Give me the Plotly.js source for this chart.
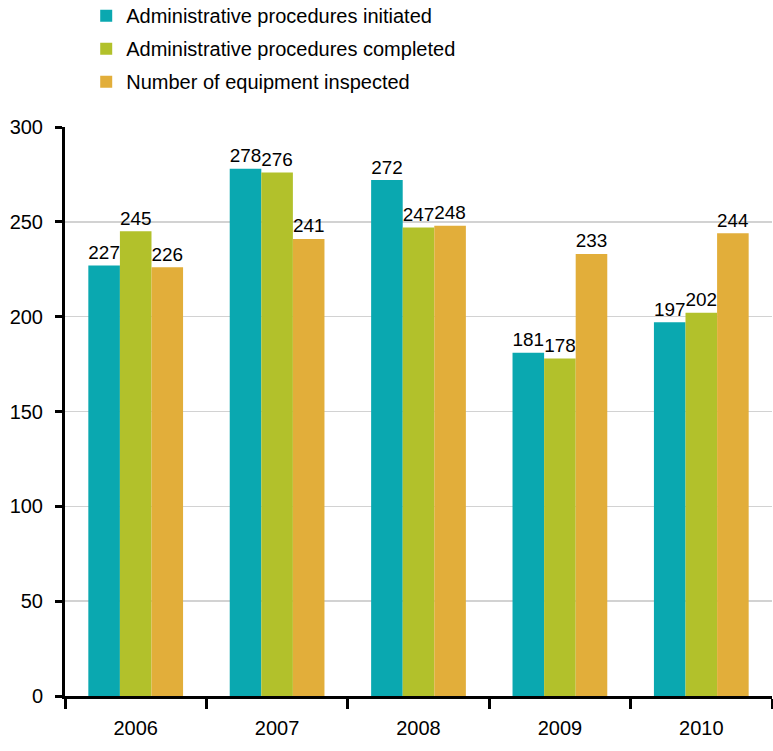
<!DOCTYPE html>
<html>
<head>
<meta charset="utf-8">
<script src="https://cdn.plot.ly/plotly-3.0.1.min.js"></script>
<style>html,body{margin:0;padding:0;background:#fff;}#chart{width:773px;height:751px;}</style>
</head>
<body>
<div id="chart"></div>
<script>
var years = ["2006", "2007", "2008", "2009", "2010"];
var initiated = [227, 278, 272, 181, 197];
var completed = [245, 276, 247, 178, 202];
var inspected = [226, 241, 248, 233, 244];
var seriesNames = ["Administrative procedures initiated", "Administrative procedures completed", "Number of equipment inspected"];
var colors = ["#0AA8B0", "#B2C12B", "#E2AE3A"];
var yTicks = [0, 50, 100, 150, 200, 250, 300];

var font = "Liberation Sans, Arial, sans-serif";
var series = [initiated, completed, inspected];
var traces = series.map(function (vals, i) {
  return {
    type: "bar",
    name: seriesNames[i],
    legendgroup: "g" + i,
    x: years,
    y: vals,
    marker: {color: colors[i], line: {width: 0}},
    text: vals.map(String),
    textposition: "outside",
    textfont: {family: font, size: 21, color: "#000"},
    cliponaxis: false,
    hoverinfo: "none"
  };
});

var layout = {
  width: 773,
  height: 751,
  margin: {l: 65, r: 1, t: 127, b: 55, autoexpand: false},
  paper_bgcolor: "#fff",
  plot_bgcolor: "#fff",
  barmode: "group",
  bargap: 0.33,
  bargroupgap: 0,
  font: {family: font, size: 20, color: "#000"},
  showlegend: true,
  legend: {
    x: 0.03, xanchor: "left",
    y: 1.23, yanchor: "top",
    font: {family: font, size: 20, color: "#000"},
    itemwidth: 30,
    tracegroupgap: 4,
    bgcolor: "rgba(0,0,0,0)"
  },
  xaxis: {
    type: "category",
    tickson: "boundaries",
    ticks: "outside",
    ticklen: 10,
    tickwidth: 3,
    tickcolor: "#000",
    showline: true,
    linecolor: "#000",
    linewidth: 3,
    showgrid: false,
    tickfont: {family: font, size: 20, color: "#000"},
    ticklabelstandoff: 12
  },
  yaxis: {
    range: [0, 300],
    tickvals: yTicks,
    ticktext: yTicks.map(String),
    ticks: "outside",
    ticklen: 7,
    tickwidth: 3,
    tickcolor: "#000",
    showline: true,
    linecolor: "#000",
    linewidth: 3,
    showgrid: true,
    gridcolor: "#d2d2d2",
    gridwidth: 1.5,
    zeroline: false,
    tickfont: {family: font, size: 20, color: "#000"},
    ticklabelstandoff: 8
  }
};

Plotly.newPlot("chart", traces, layout, {displayModeBar: false, staticPlot: true});
</script>
</body>
</html>
